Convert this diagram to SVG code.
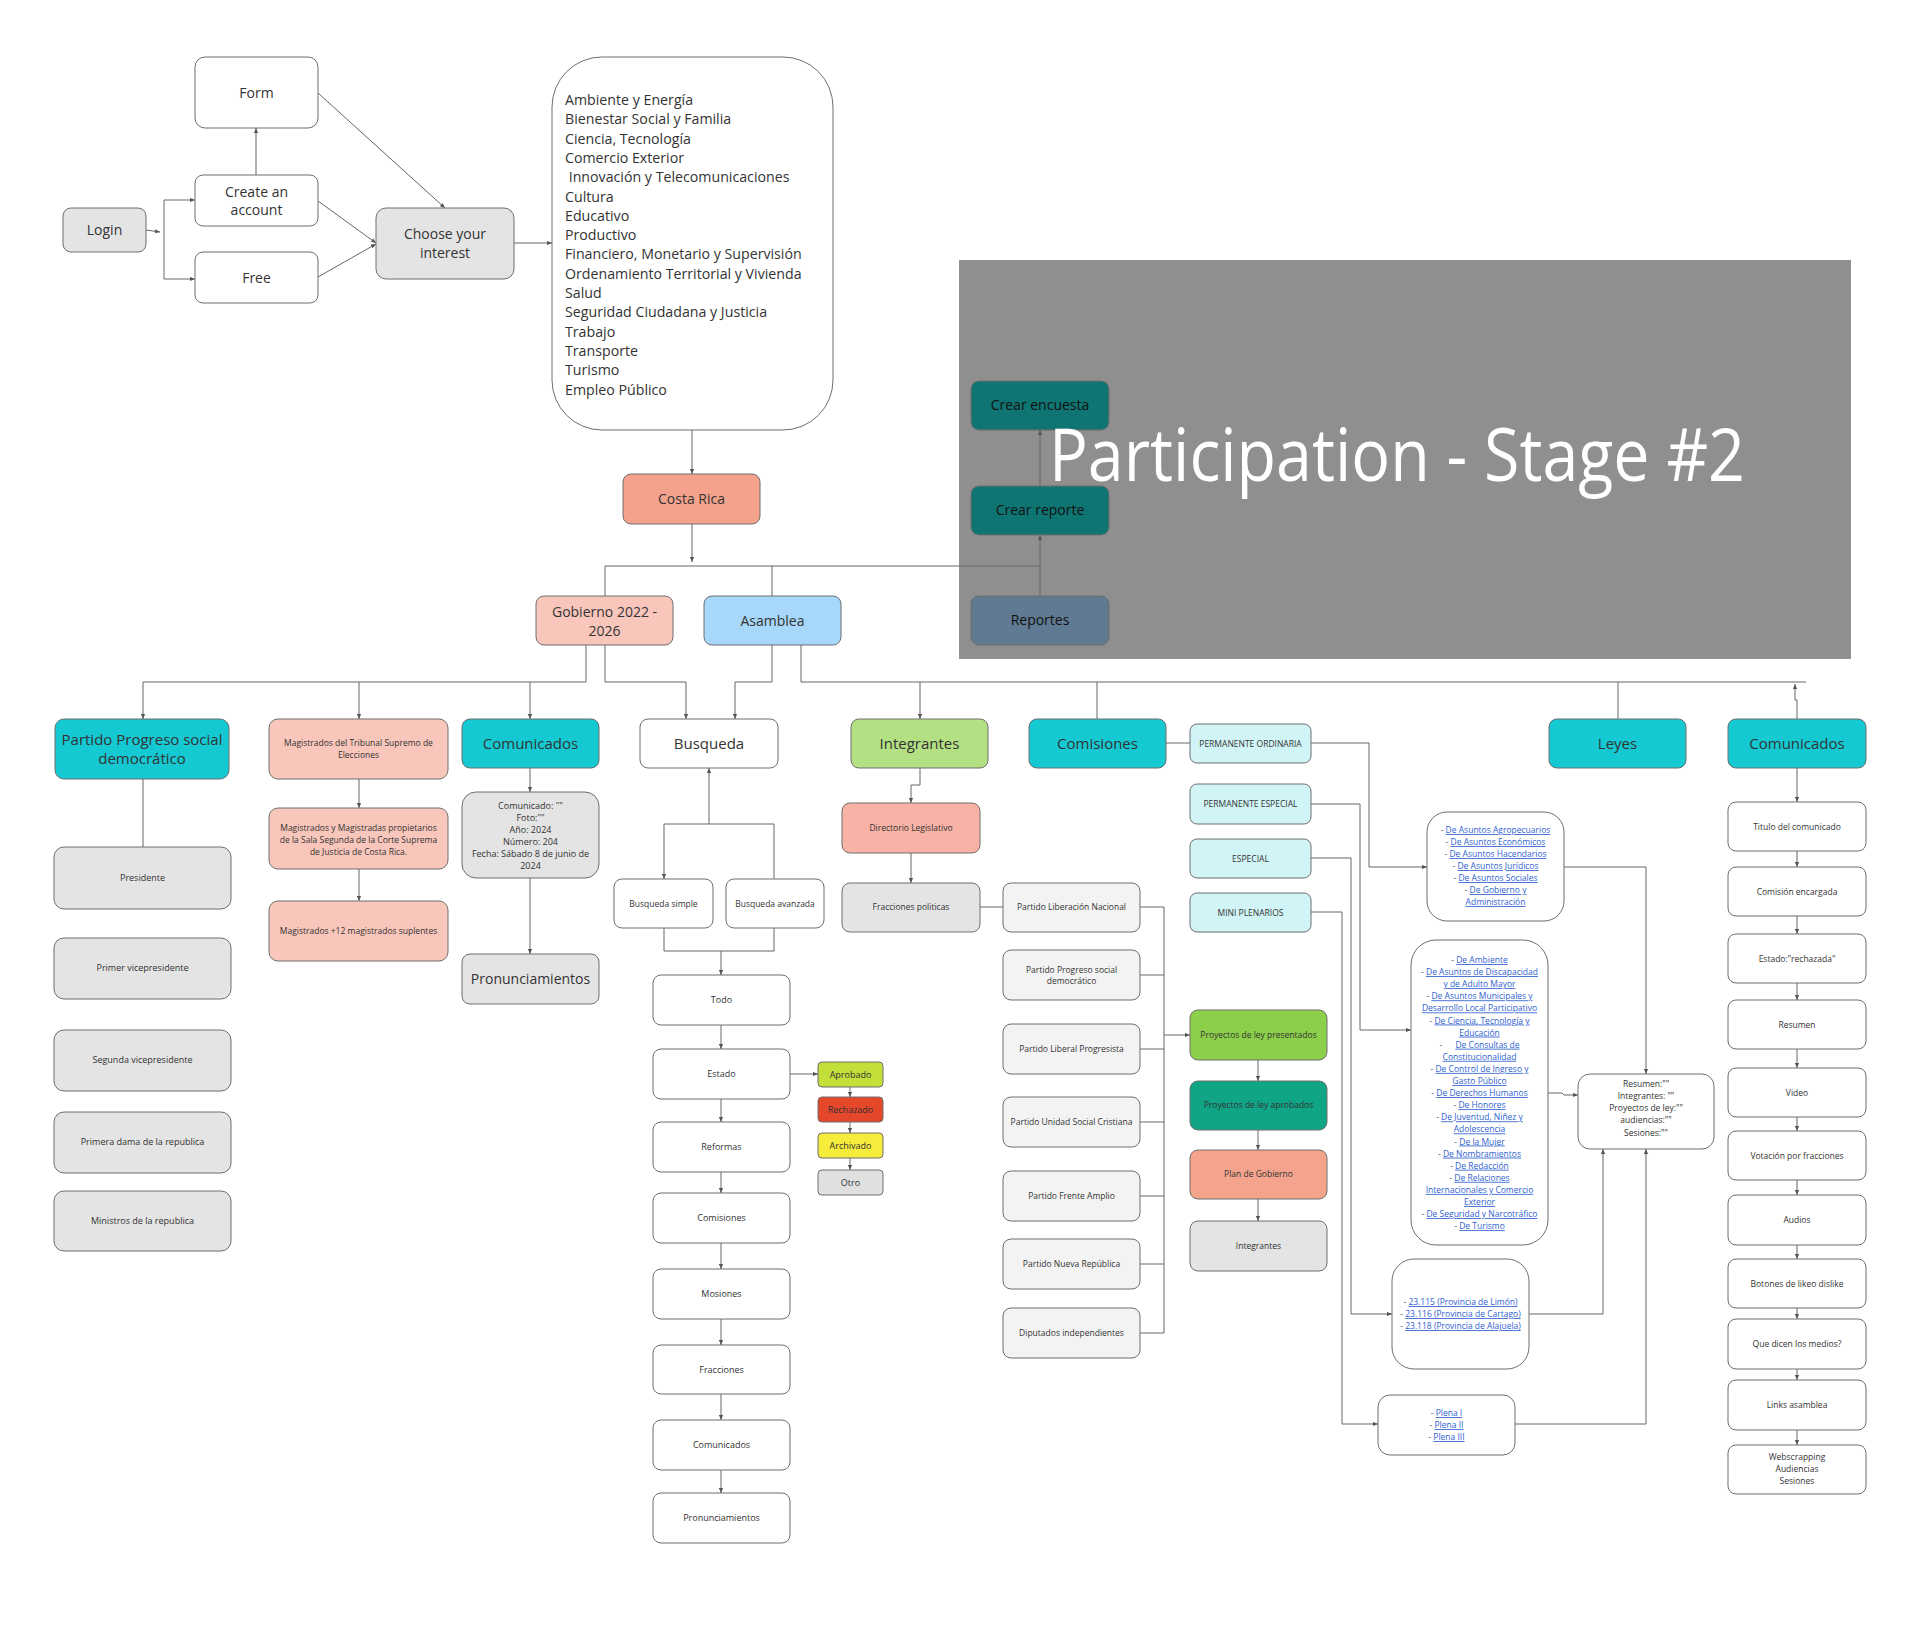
<svg xmlns="http://www.w3.org/2000/svg" width="1920" height="1627" viewBox="0 0 1920 1627">
<defs>
<marker id="a" viewBox="0 0 6 6" refX="6" refY="3" markerWidth="5" markerHeight="5" orient="auto"><path d="M0,0.5 L6,3 L0,5.5z" fill="#555"/></marker>
<style>
.b{stroke:#6e6e6e;stroke-width:1}
.w{fill:#fff}.g{fill:#e4e4e4}.lg{fill:#f3f3f3}.tq{fill:#14c9d2}.pk{fill:#f9c6bb}.cy{fill:#d1f4f6}.teal{fill:#0f7573}
text{font-family:"Open Sans","Liberation Sans",sans-serif;fill:#333}
.t{text-anchor:middle}
.f15{font-size:15px}.f14{font-size:14px}.f9{font-size:9px}.f85{font-size:8.5px}
.dk{fill:#111;font-size:14px}
.c{fill:none;stroke:#666;stroke-width:1}
.ca{fill:none;stroke:#666;stroke-width:1;marker-end:url(#a)}
.lk{fill:#2f62d0;text-decoration:underline}
.d{fill:#555}
.ttl{fill:#fff;font-size:74px}
</style>
</defs>
<rect width="1920" height="1627" fill="#fff"/>

<!-- overlay -->
<rect x="959" y="260" width="892" height="399" fill="#8f8f8f"/>

<g id="connectors">
<path class="ca" d="M146,230 L160,232"/>
<path class="c" d="M164,200 L164,279"/>
<path class="ca" d="M164,200 L195,200"/>
<path class="ca" d="M164,279 L195,279"/>
<path class="ca" d="M256,175 L256,128"/>
<path class="ca" d="M318,93 L445,208"/>
<path class="ca" d="M318,201 L376,243"/>
<path class="ca" d="M318,277 L376,244"/>
<path class="ca" d="M514,243 L552,243"/>
<path class="ca" d="M692,430 L692,474"/>
<path class="ca" d="M692,524 L692,562"/>
<path class="c" d="M605,566 L1040,566"/>
<path class="c" d="M605,566 L605,596"/>
<path class="c" d="M772,566 L772,596"/>
<path class="ca" d="M1040,596 L1040,535"/>
<path class="ca" d="M1040,486 L1040,430"/>
<!-- row 2 -->
<path class="c" d="M586,645 L586,682 L143,682"/>
<path class="ca" d="M143,682 L143,719"/>
<path class="ca" d="M359,682 L359,719"/>
<path class="ca" d="M530,682 L530,719"/>
<path class="ca" d="M605,645 L605,682 L686,682 L686,719"/>
<path class="ca" d="M772,645 L772,682 L735,682 L735,719"/>
<path class="c" d="M801,645 L801,682 L1806,682"/>
<path class="ca" d="M920,682 L920,719"/>
<path class="c" d="M1097,682 L1097,719"/>
<path class="c" d="M1618,682 L1618,719"/>
<path class="ca" d="M1797,719 L1797,700 L1795,700 L1795,684"/>
<!-- left -->
<path class="c" d="M143,779 L143,847"/>
<path class="ca" d="M359,779 L359,808"/>
<path class="ca" d="M359,869 L359,901"/>
<path class="ca" d="M530,768 L530,792"/>
<path class="ca" d="M530,878 L530,954"/>
<!-- busqueda -->
<path class="c" d="M664,824 L774,824 L774,879"/>
<path class="ca" d="M664,824 L664,879"/>
<path class="ca" d="M709,824 L709,768"/>
<path class="c" d="M664,928 L664,951 L774,951 L774,928"/>
<path class="ca" d="M721,951 L721,975"/>
<path class="ca" d="M721,1025 L721,1049"/>
<path class="ca" d="M721,1099 L721,1122"/>
<path class="ca" d="M721,1172 L721,1193"/>
<path class="ca" d="M721,1243 L721,1269"/>
<path class="ca" d="M721,1319 L721,1345"/>
<path class="ca" d="M721,1394 L721,1420"/>
<path class="ca" d="M721,1470 L721,1493"/>
<path class="ca" d="M790,1074 L818,1074"/>
<path class="ca" d="M850,1087 L850,1097"/>
<path class="ca" d="M850,1122 L850,1133"/>
<path class="ca" d="M850,1158 L850,1170"/>
<!-- integrantes -->
<path class="ca" d="M920,768 L920,785 L911,785 L911,803"/>
<path class="ca" d="M911,853 L911,883"/>
<path class="c" d="M980,907 L1003,907"/>
<path class="c" d="M1140,907 L1164,907 M1140,975 L1164,975 M1140,1049 L1164,1049 M1140,1122 L1164,1122 M1140,1196 L1164,1196 M1140,1264 L1164,1264 M1140,1333 L1164,1333 M1164,907 L1164,1333"/>
<path class="ca" d="M1164,1035 L1190,1035"/>
<!-- comisiones -->
<path class="c" d="M1166,743 L1190,743"/>
<path class="ca" d="M1311,743 L1369,743 L1369,867 L1427,867"/>
<path class="ca" d="M1311,804 L1360,804 L1360,1030 L1411,1030"/>
<path class="ca" d="M1311,858 L1351,858 L1351,1314 L1392,1314"/>
<path class="ca" d="M1311,912 L1342,912 L1342,1424 L1378,1424"/>
<path class="ca" d="M1258,1060 L1258,1081"/>
<path class="ca" d="M1258,1130 L1258,1150"/>
<path class="ca" d="M1258,1199 L1258,1221"/>
<path class="ca" d="M1564,867 L1646,867 L1646,1074"/>
<path class="ca" d="M1548,1093 L1562,1093 L1564,1095 L1578,1095"/>
<path class="ca" d="M1529,1314 L1603,1314 L1603,1149"/>
<path class="ca" d="M1515,1424 L1646,1424 L1646,1149"/>
<!-- right column -->
<path class="ca" d="M1797,768 L1797,802"/>
<path class="ca" d="M1797,851 L1797,867"/>
<path class="ca" d="M1797,916 L1797,934"/>
<path class="ca" d="M1797,983 L1797,1000"/>
<path class="ca" d="M1797,1049 L1797,1068"/>
<path class="ca" d="M1797,1117 L1797,1131"/>
<path class="ca" d="M1797,1180 L1797,1195"/>
<path class="ca" d="M1797,1245 L1797,1259"/>
<path class="ca" d="M1797,1308 L1797,1319"/>
<path class="ca" d="M1797,1369 L1797,1380"/>
<path class="ca" d="M1797,1430 L1797,1445"/>
</g>

<!-- top section -->
<g id="login"><rect class="b g" x="63" y="208" width="83" height="44" rx="8"/><text class="t f14" x="104.5" y="235">Login</text></g>
<g id="create"><rect class="b w" x="195" y="175" width="123" height="51" rx="8"/><text class="t f14" x="256.5" y="197">Create an</text><text class="t f14" x="256.5" y="215">account</text></g>
<g id="form"><rect class="b w" x="195" y="57" width="123" height="71" rx="10"/><text class="t f14" x="256.5" y="98">Form</text></g>
<g id="free"><rect class="b w" x="195" y="252" width="123" height="51" rx="8"/><text class="t f14" x="256.5" y="283">Free</text></g>
<g id="choose"><rect class="b g" x="376" y="208" width="138" height="71" rx="10"/><text class="t f14" x="445" y="239">Choose your</text><text class="t f14" x="445" y="258">interest</text></g>
<g id="subjects"><rect class="b w" x="552" y="57" width="281" height="373" rx="50"/>
<text font-size="14.2" x="565" y="105">Ambiente y Energía</text>
<text font-size="14.2" x="565" y="124.3">Bienestar Social y Familia</text>
<text font-size="14.2" x="565" y="143.6">Ciencia, Tecnología</text>
<text font-size="14.2" x="565" y="162.9">Comercio Exterior</text>
<text font-size="14.2" x="565" y="182.2" xml:space="preserve"> Innovación y Telecomunicaciones</text>
<text font-size="14.2" x="565" y="201.5">Cultura</text>
<text font-size="14.2" x="565" y="220.8">Educativo</text>
<text font-size="14.2" x="565" y="240.1">Productivo</text>
<text font-size="14.2" x="565" y="259.4">Financiero, Monetario y Supervisión</text>
<text font-size="14.2" x="565" y="278.7">Ordenamiento Territorial y Vivienda</text>
<text font-size="14.2" x="565" y="298">Salud</text>
<text font-size="14.2" x="565" y="317.3">Seguridad Ciudadana y Justicia</text>
<text font-size="14.2" x="565" y="336.6">Trabajo</text>
<text font-size="14.2" x="565" y="355.9">Transporte</text>
<text font-size="14.2" x="565" y="375.2">Turismo</text>
<text font-size="14.2" x="565" y="394.5">Empleo Público</text>
</g>
<g id="costarica"><rect class="b" fill="#f5a28d" x="623" y="474" width="137" height="50" rx="8"/><text class="t f14" x="691.5" y="504">Costa Rica</text></g>
<g id="gobierno"><rect class="b pk" x="536" y="596" width="137" height="49" rx="8"/><text class="t f14" x="604.5" y="617">Gobierno 2022 -</text><text class="t f14" x="604.5" y="636">2026</text></g>
<g id="asamblea"><rect class="b" fill="#a7d7f9" x="704" y="596" width="137" height="49" rx="8"/><text class="t f14" x="772.5" y="626">Asamblea</text></g>

<g id="crear-encuesta"><rect class="b teal" x="971" y="381" width="138" height="49" rx="8"/><text class="t dk" x="1040" y="410">Crear encuesta</text></g>
<g id="crear-reporte"><rect class="b teal" x="971" y="486" width="138" height="49" rx="8"/><text class="t dk" x="1040" y="515">Crear reporte</text></g>
<g id="reportes"><rect class="b" fill="#5f7a92" x="971" y="596" width="138" height="49" rx="8"/><text class="t dk" x="1040" y="625">Reportes</text></g>
<text class="ttl" x="1049" y="481" textLength="696" lengthAdjust="spacingAndGlyphs">Participation - Stage #2</text>

<!-- left group -->
<g id="partido-psd"><rect class="b tq" x="55" y="719" width="174" height="60" rx="9"/><text class="t f15" x="142" y="745">Partido Progreso social</text><text class="t f15" x="142" y="764">democrático</text></g>
<g id="presidente"><rect class="b g" x="54" y="847" width="177" height="62" rx="10"/><text class="t f9" x="142.5" y="881">Presidente</text></g>
<g id="primer-vice"><rect class="b g" x="54" y="938" width="177" height="61" rx="10"/><text class="t f9" x="142.5" y="971">Primer vicepresidente</text></g>
<g id="segunda-vice"><rect class="b g" x="54" y="1030" width="177" height="61" rx="10"/><text class="t f9" x="142.5" y="1063">Segunda vicepresidente</text></g>
<g id="primera-dama"><rect class="b g" x="54" y="1112" width="177" height="61" rx="10"/><text class="t f9" x="142.5" y="1145">Primera dama de la republica</text></g>
<g id="ministros"><rect class="b g" x="54" y="1191" width="177" height="60" rx="10"/><text class="t f9" x="142.5" y="1224">Ministros de la republica</text></g>

<g id="mag-tse"><rect class="b pk" x="269" y="719" width="179" height="60" rx="9"/><text class="t f85" x="358.5" y="746">Magistrados del Tribunal Supremo de</text><text class="t f85" x="358.5" y="758">Elecciones</text></g>
<g id="mag-sala"><rect class="b pk" x="269" y="808" width="179" height="61" rx="9"/><text class="t f85" x="358.5" y="831">Magistrados y Magistradas propietarios</text><text class="t f85" x="358.5" y="843">de la Sala Segunda de la Corte Suprema</text><text class="t f85" x="358.5" y="855">de Justicia de Costa Rica.</text></g>
<g id="mag-suplentes"><rect class="b pk" x="269" y="901" width="179" height="60" rx="9"/><text class="t f85" x="358.5" y="934">Magistrados +12 magistrados suplentes</text></g>

<g id="comunicados-gob"><rect class="b tq" x="462" y="719" width="137" height="49" rx="8"/><text class="t f15" x="530.5" y="749">Comunicados</text></g>
<g id="comunicado-det"><rect class="b g" x="462" y="792" width="137" height="86" rx="14"/>
<text class="t f9" x="530.5" y="809">Comunicado: ""</text><text class="t f9" x="530.5" y="821">Foto:""</text><text class="t f9" x="530.5" y="833">Año: 2024</text><text class="t f9" x="530.5" y="845">Número: 204</text><text class="t f9" x="530.5" y="857">Fecha: Sábado 8 de junio de</text><text class="t f9" x="530.5" y="869">2024</text></g>
<g id="pronunciamientos-gob"><rect class="b g" x="462" y="954" width="137" height="50" rx="8"/><text class="t f14" x="530.5" y="984">Pronunciamientos</text></g>

<!-- busqueda -->
<g id="busqueda"><rect class="b w" x="640" y="719" width="138" height="49" rx="8"/><text class="t f15" x="709" y="749">Busqueda</text></g>
<g id="busqueda-simple"><rect class="b w" x="614" y="879" width="99" height="49" rx="8"/><text class="t f85" x="663.5" y="907">Busqueda simple</text></g>
<g id="busqueda-avanzada"><rect class="b w" x="726" y="879" width="98" height="49" rx="8"/><text class="t f85" x="775" y="907">Busqueda avanzada</text></g>
<g id="todo"><rect class="b w" x="653" y="975" width="137" height="50" rx="8"/><text class="t f9" x="721.5" y="1003">Todo</text></g>
<g id="estado"><rect class="b w" x="653" y="1049" width="137" height="50" rx="8"/><text class="t f9" x="721.5" y="1077">Estado</text></g>
<g id="reformas"><rect class="b w" x="653" y="1122" width="137" height="50" rx="8"/><text class="t f9" x="721.5" y="1150">Reformas</text></g>
<g id="comisiones-b"><rect class="b w" x="653" y="1193" width="137" height="50" rx="8"/><text class="t f9" x="721.5" y="1221">Comisiones</text></g>
<g id="mosiones"><rect class="b w" x="653" y="1269" width="137" height="50" rx="8"/><text class="t f9" x="721.5" y="1297">Mosiones</text></g>
<g id="fracciones"><rect class="b w" x="653" y="1345" width="137" height="49" rx="8"/><text class="t f9" x="721.5" y="1373">Fracciones</text></g>
<g id="comunicados-b"><rect class="b w" x="653" y="1420" width="137" height="50" rx="8"/><text class="t f9" x="721.5" y="1448">Comunicados</text></g>
<g id="pronunciamientos-b"><rect class="b w" x="653" y="1493" width="137" height="50" rx="8"/><text class="t f9" x="721.5" y="1521">Pronunciamientos</text></g>
<g id="aprobado"><rect class="b" fill="#c3df3a" x="818" y="1062" width="65" height="25" rx="4"/><text class="t f9" x="850.5" y="1077.5">Aprobado</text></g>
<g id="rechazado"><rect class="b" fill="#e5472b" x="818" y="1097" width="65" height="25" rx="4"/><text class="t f9" x="850.5" y="1112.5">Rechazado</text></g>
<g id="archivado"><rect class="b" fill="#f5ec3c" x="818" y="1133" width="65" height="25" rx="4"/><text class="t f9" x="850.5" y="1148.5">Archivado</text></g>
<g id="otro"><rect class="b" fill="#e0e0e0" x="818" y="1170" width="65" height="25" rx="4"/><text class="t f9" x="850.5" y="1185.5">Otro</text></g>

<!-- integrantes -->
<g id="integrantes"><rect class="b" fill="#b2e083" x="851" y="719" width="137" height="49" rx="8"/><text class="t f15" x="919.5" y="749">Integrantes</text></g>
<g id="directorio"><rect class="b" fill="#f8b2a6" x="842" y="803" width="138" height="50" rx="8"/><text class="t f85" x="911" y="831">Directorio Legislativo</text></g>
<g id="fracciones-pol"><rect class="b g" x="842" y="883" width="138" height="49" rx="8"/><text class="t f85" x="911" y="910">Fracciones politicas</text></g>
<g id="pln"><rect class="b lg" x="1003" y="883" width="137" height="49" rx="8"/><text class="t f85" x="1071.5" y="910">Partido Liberación Nacional</text></g>
<g id="ppsd"><rect class="b lg" x="1003" y="950" width="137" height="50" rx="8"/><text class="t f85" x="1071.5" y="973">Partido Progreso social</text><text class="t f85" x="1071.5" y="984">democrático</text></g>
<g id="plp"><rect class="b lg" x="1003" y="1024" width="137" height="50" rx="8"/><text class="t f85" x="1071.5" y="1052">Partido Liberal Progresista</text></g>
<g id="pusc"><rect class="b lg" x="1003" y="1097" width="137" height="50" rx="8"/><text class="t f85" x="1071.5" y="1125">Partido Unidad Social Cristiana</text></g>
<g id="pfa"><rect class="b lg" x="1003" y="1171" width="137" height="50" rx="8"/><text class="t f85" x="1071.5" y="1199">Partido Frente Amplio</text></g>
<g id="pnr"><rect class="b lg" x="1003" y="1239" width="137" height="50" rx="8"/><text class="t f85" x="1071.5" y="1267">Partido Nueva República</text></g>
<g id="indep"><rect class="b lg" x="1003" y="1308" width="137" height="50" rx="8"/><text class="t f85" x="1071.5" y="1336">Diputados independientes</text></g>

<!-- comisiones -->
<g id="comisiones"><rect class="b tq" x="1029" y="719" width="137" height="49" rx="8"/><text class="t f15" x="1097.5" y="749">Comisiones</text></g>
<g id="perm-ord"><rect class="b cy" x="1190" y="724" width="121" height="39" rx="7"/><text class="t f85" x="1250.5" y="746.5">PERMANENTE ORDINARIA</text></g>
<g id="perm-esp"><rect class="b cy" x="1190" y="784" width="121" height="40" rx="7"/><text class="t f85" x="1250.5" y="807">PERMANENTE ESPECIAL</text></g>
<g id="especial"><rect class="b cy" x="1190" y="839" width="121" height="39" rx="7"/><text class="t f85" x="1250.5" y="861.5">ESPECIAL</text></g>
<g id="mini"><rect class="b cy" x="1190" y="893" width="121" height="39" rx="7"/><text class="t f85" x="1250.5" y="915.5">MINI PLENARIOS</text></g>
<g id="presentados"><rect class="b" fill="#8ccf4a" x="1190" y="1010" width="137" height="50" rx="8"/><text class="t f85" x="1258.5" y="1038">Proyectos de ley presentados</text></g>
<g id="aprobados"><rect class="b" fill="#10a585" x="1190" y="1081" width="137" height="49" rx="8"/><text class="t f85" x="1258.5" y="1108">Proyectos de ley aprobados</text></g>
<g id="plan"><rect class="b" fill="#f4a38c" x="1190" y="1150" width="137" height="49" rx="8"/><text class="t f85" x="1258.5" y="1177">Plan de Gobierno</text></g>
<g id="integrantes-c"><rect class="b g" x="1190" y="1221" width="137" height="50" rx="8"/><text class="t f85" x="1258.5" y="1249">Integrantes</text></g>

<g id="box-asuntos"><rect class="b w" x="1427" y="812" width="137" height="109" rx="20"/>
<text class="t f85" x="1495.5" y="833"><tspan class="d">- </tspan><tspan class="lk">De Asuntos Agropecuarios</tspan></text>
<text class="t f85" x="1495.5" y="845"><tspan class="d">- </tspan><tspan class="lk">De Asuntos Económicos</tspan></text>
<text class="t f85" x="1495.5" y="857"><tspan class="d">- </tspan><tspan class="lk">De Asuntos Hacendarios</tspan></text>
<text class="t f85" x="1495.5" y="869"><tspan class="d">- </tspan><tspan class="lk">De Asuntos Jurídicos</tspan></text>
<text class="t f85" x="1495.5" y="881"><tspan class="d">- </tspan><tspan class="lk">De Asuntos Sociales</tspan></text>
<text class="t f85" x="1495.5" y="893"><tspan class="d">- </tspan><tspan class="lk">De Gobierno y</tspan></text>
<text class="t f85" x="1495.5" y="905"><tspan class="lk">Administración</tspan></text>
</g>
<g id="box-especiales"><rect class="b w" x="1411" y="940" width="137" height="305" rx="25"/>
<text class="t f85" x="1479.5" y="963"><tspan class="d">- </tspan><tspan class="lk">De Ambiente</tspan></text>
<text class="t f85" x="1479.5" y="975.1"><tspan class="d">- </tspan><tspan class="lk">De Asuntos de Discapacidad</tspan></text>
<text class="t f85" x="1479.5" y="987.2"><tspan class="lk">y de Adulto Mayor</tspan></text>
<text class="t f85" x="1479.5" y="999.3"><tspan class="d">- </tspan><tspan class="lk">De Asuntos Municipales y</tspan></text>
<text class="t f85" x="1479.5" y="1011.4"><tspan class="lk">Desarrollo Local Participativo</tspan></text>
<text class="t f85" x="1479.5" y="1023.5"><tspan class="d">- </tspan><tspan class="lk">De Ciencia, Tecnología y</tspan></text>
<text class="t f85" x="1479.5" y="1035.6"><tspan class="lk">Educación</tspan></text>
<text class="t f85" x="1479.5" y="1047.7" xml:space="preserve"><tspan class="d">-      </tspan><tspan class="lk">De Consultas de</tspan></text>
<text class="t f85" x="1479.5" y="1059.8"><tspan class="lk">Constitucionalidad</tspan></text>
<text class="t f85" x="1479.5" y="1071.9"><tspan class="d">- </tspan><tspan class="lk">De Control de Ingreso y</tspan></text>
<text class="t f85" x="1479.5" y="1084"><tspan class="lk">Gasto Público</tspan></text>
<text class="t f85" x="1479.5" y="1096.1"><tspan class="d">- </tspan><tspan class="lk">De Derechos Humanos</tspan></text>
<text class="t f85" x="1479.5" y="1108.2"><tspan class="d">- </tspan><tspan class="lk">De Honores</tspan></text>
<text class="t f85" x="1479.5" y="1120.3"><tspan class="d">- </tspan><tspan class="lk">De Juventud, Niñez y</tspan></text>
<text class="t f85" x="1479.5" y="1132.4"><tspan class="lk">Adolescencia</tspan></text>
<text class="t f85" x="1479.5" y="1144.5"><tspan class="d">- </tspan><tspan class="lk">De la Mujer</tspan></text>
<text class="t f85" x="1479.5" y="1156.6"><tspan class="d">- </tspan><tspan class="lk">De Nombramientos</tspan></text>
<text class="t f85" x="1479.5" y="1168.7"><tspan class="d">- </tspan><tspan class="lk">De Redacción</tspan></text>
<text class="t f85" x="1479.5" y="1180.8"><tspan class="d">- </tspan><tspan class="lk">De Relaciones</tspan></text>
<text class="t f85" x="1479.5" y="1192.9"><tspan class="lk">Internacionales y Comercio</tspan></text>
<text class="t f85" x="1479.5" y="1205"><tspan class="lk">Exterior</tspan></text>
<text class="t f85" x="1479.5" y="1217.1"><tspan class="d">- </tspan><tspan class="lk">De Seguridad y Narcotráfico</tspan></text>
<text class="t f85" x="1479.5" y="1229.2"><tspan class="d">- </tspan><tspan class="lk">De Turismo</tspan></text>
</g>
<g id="box-proyectos"><rect class="b w" x="1392" y="1259" width="137" height="110" rx="22"/>
<text class="t f85" x="1460.5" y="1305"><tspan class="d">- </tspan><tspan class="lk">23.115 (Provincia de Limón)</tspan></text>
<text class="t f85" x="1460.5" y="1317"><tspan class="d">- </tspan><tspan class="lk">23.116 (Provincia de Cartago)</tspan></text>
<text class="t f85" x="1460.5" y="1329"><tspan class="d">- </tspan><tspan class="lk">23.118 (Provincia de Alajuela)</tspan></text>
</g>
<g id="box-plena"><rect class="b w" x="1378" y="1395" width="137" height="60" rx="12"/>
<text class="t f85" x="1446.5" y="1416"><tspan class="d">- </tspan><tspan class="lk">Plena I</tspan></text>
<text class="t f85" x="1446.5" y="1428"><tspan class="d">- </tspan><tspan class="lk">Plena II</tspan></text>
<text class="t f85" x="1446.5" y="1440"><tspan class="d">- </tspan><tspan class="lk">Plena III</tspan></text>
</g>
<g id="resumen-box"><rect class="b w" x="1578" y="1074" width="136" height="75" rx="12"/>
<text class="t f85" x="1646" y="1087">Resumen:""</text>
<text class="t f85" x="1646" y="1099">Integrantes: ""</text>
<text class="t f85" x="1646" y="1111">Proyectos de ley:""</text>
<text class="t f85" x="1646" y="1123">audiencias:""</text>
<text class="t f85" x="1646" y="1136">Sesiones:""</text>
</g>

<g id="leyes"><rect class="b tq" x="1549" y="719" width="137" height="49" rx="8"/><text class="t f15" x="1617.5" y="749">Leyes</text></g>
<g id="comunicados-a"><rect class="b tq" x="1728" y="719" width="138" height="49" rx="8"/><text class="t f15" x="1797" y="749">Comunicados</text></g>
<g id="titulo"><rect class="b w" x="1728" y="802" width="138" height="49" rx="8"/><text class="t f85" x="1797" y="829.5">Titulo del comunicado</text></g>
<g id="comision-enc"><rect class="b w" x="1728" y="867" width="138" height="49" rx="8"/><text class="t f85" x="1797" y="894.5">Comisión encargada</text></g>
<g id="estado-r"><rect class="b w" x="1728" y="934" width="138" height="49" rx="8"/><text class="t f85" x="1797" y="961.5">Estado:"rechazada"</text></g>
<g id="resumen"><rect class="b w" x="1728" y="1000" width="138" height="49" rx="8"/><text class="t f85" x="1797" y="1027.5">Resumen</text></g>
<g id="video"><rect class="b w" x="1728" y="1068" width="138" height="49" rx="8"/><text class="t f85" x="1797" y="1095.5">Video</text></g>
<g id="votacion"><rect class="b w" x="1728" y="1131" width="138" height="49" rx="8"/><text class="t f85" x="1797" y="1158.5">Votación por fracciones</text></g>
<g id="audios"><rect class="b w" x="1728" y="1195" width="138" height="50" rx="8"/><text class="t f85" x="1797" y="1223">Audios</text></g>
<g id="botones"><rect class="b w" x="1728" y="1259" width="138" height="49" rx="8"/><text class="t f85" x="1797" y="1286.5">Botones de likeo dislike</text></g>
<g id="medios"><rect class="b w" x="1728" y="1319" width="138" height="50" rx="8"/><text class="t f85" x="1797" y="1347">Que dicen los medios?</text></g>
<g id="links"><rect class="b w" x="1728" y="1380" width="138" height="50" rx="8"/><text class="t f85" x="1797" y="1408">Links asamblea</text></g>
<g id="webscrapping"><rect class="b w" x="1728" y="1445" width="138" height="49" rx="8"/><text class="t f85" x="1797" y="1460">Webscrapping</text><text class="t f85" x="1797" y="1472">Audiencias</text><text class="t f85" x="1797" y="1484">Sesiones</text></g>
</svg>
